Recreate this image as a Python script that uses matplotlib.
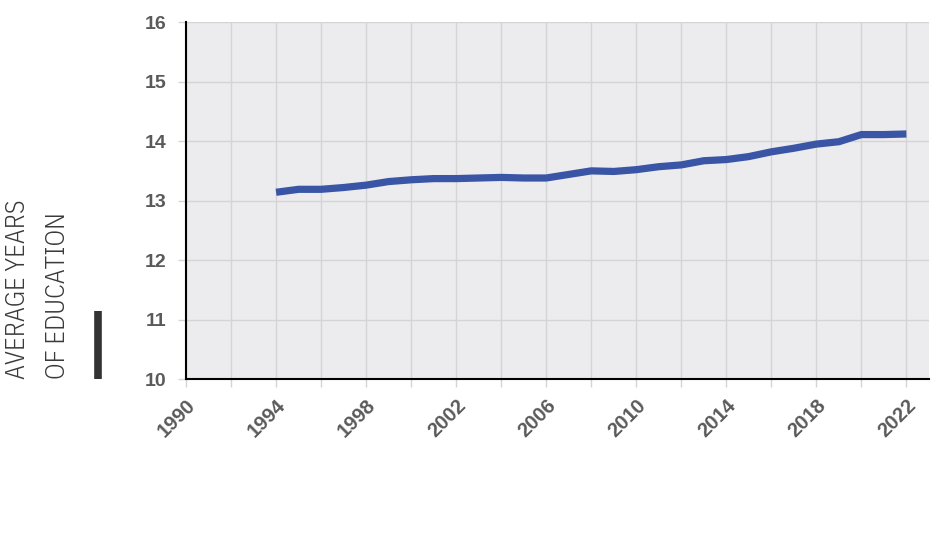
import matplotlib
matplotlib.use("Agg")
import matplotlib.pyplot as plt
import matplotlib.lines as mlines

years = list(range(1994, 2023))
avg_years = [13.14, 13.19, 13.19, 13.22, 13.26, 13.32, 13.35, 13.37, 13.37, 13.38,
             13.39, 13.38, 13.38, 13.44, 13.50, 13.49, 13.52, 13.57, 13.60, 13.67,
             13.69, 13.74, 13.82, 13.88, 13.95, 13.99, 14.11, 14.11, 14.12]
x_ticks = list(range(1990, 2023, 2))
x_labels = [str(y) if (y - 1990) % 4 == 0 else "" for y in x_ticks]
y_ticks = [10, 11, 12, 13, 14, 15, 16]

plt.rcParams['font.family'] = ['Liberation Sans', 'DejaVu Sans']
label_font = ['IBM Plex Sans Condensed', 'DejaVu Sans']

fig = plt.figure(figsize=(9.5, 5.4), dpi=100)
ax = fig.add_axes([0.1958, 0.298, 0.782, 0.661])
ax.set_facecolor("#ececee")

ax.plot(years, avg_years, color="#3a55a6", linewidth=5.2, solid_capstyle="butt", zorder=3)

ax.set_xlim(1990, 2023)
ax.set_ylim(10, 16)
ax.set_xticks(x_ticks)
ax.set_xticklabels(x_labels, rotation=45, ha="right", rotation_mode="anchor")
ax.set_yticks(y_ticks)
ax.grid(True, color="#d4d4d6", linewidth=1)
ax.set_axisbelow(True)

for s in ["top", "right"]:
    ax.spines[s].set_visible(False)
for s in ["left", "bottom"]:
    ax.spines[s].set_color("black")
    ax.spines[s].set_linewidth(1.5)

ax.tick_params(axis="both", length=6, width=1, color="#d4d4d6", labelcolor="#5a5a5a")
ax.tick_params(axis="y", pad=8, labelsize=14)
ax.tick_params(axis="x", pad=6, labelsize=14.5)
for lbl in ax.get_xticklabels() + ax.get_yticklabels():
    lbl.set_fontweight("bold")

fig.text(0.005, 0.298, "AVERAGE YEARS", rotation=90, ha="left", va="bottom",
         fontsize=19, color="#3a3a3a", family=label_font, fontweight=300)
fig.text(0.047, 0.298, "OF EDUCATION", rotation=90, ha="left", va="bottom",
         fontsize=19, color="#3a3a3a", family=label_font, fontweight=300)
fig.add_artist(mlines.Line2D([0.1032, 0.1032], [0.298, 0.424], color="#333333",
                             linewidth=5.5, solid_capstyle="butt"))

fig.savefig("out.png", dpi=100)
